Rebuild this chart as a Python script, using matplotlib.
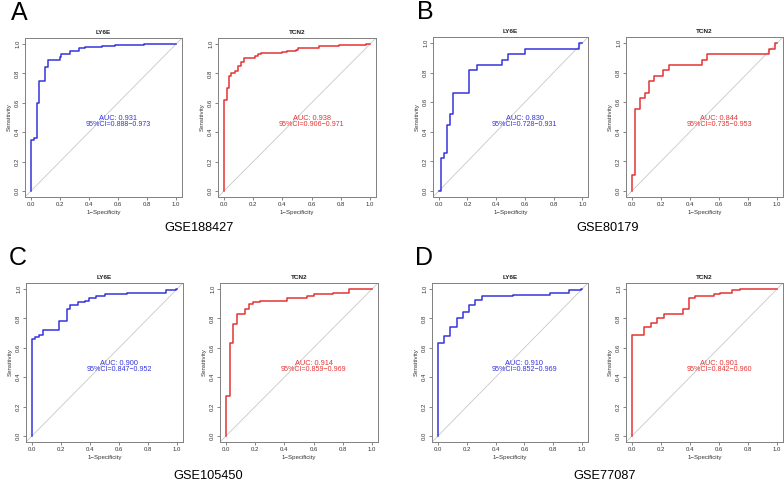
import matplotlib
matplotlib.use("Agg")
import matplotlib.pyplot as plt

plt.rcParams['font.family'] = ['Liberation Sans', 'DejaVu Sans']

W, H = 784, 484

# ---- data ----
panel_letters = ["A", "B", "C", "D"]
datasets = ["GSE188427", "GSE80179", "GSE105450", "GSE77087"]
genes = ["LY6E", "TCN2"]

A_LY6E_fpr = [0, 0, 0.02, 0.04, 0.055, 0.10, 0.115, 0.20, 0.21, 0.27, 0.33, 0.37, 0.49, 0.58, 0.78, 1.0]
A_LY6E_tpr = [0, 0.35, 0.36, 0.60, 0.745, 0.84, 0.89, 0.91, 0.93, 0.95, 0.97, 0.98, 0.985, 0.99, 1.0, 1.0]
A_TCN2_fpr = [0, 0, 0.02, 0.037, 0.052, 0.075, 0.096, 0.114, 0.137, 0.21, 0.235, 0.255, 0.40, 0.43, 0.49, 0.507, 0.648, 0.79, 0.97, 1.0]
A_TCN2_tpr = [0, 0.62, 0.70, 0.78, 0.80, 0.815, 0.85, 0.875, 0.905, 0.915, 0.93, 0.94, 0.945, 0.95, 0.96, 0.975, 0.985, 0.99, 1.0, 1.0]

B_LY6E_fpr = [0, 0.018, 0.034, 0.057, 0.077, 0.098, 0.214, 0.268, 0.443, 0.48, 0.60, 0.98, 1.0]
B_LY6E_tpr = [0, 0.22, 0.26, 0.445, 0.52, 0.665, 0.815, 0.85, 0.885, 0.925, 0.96, 1.0, 1.0]
B_TCN2_fpr = [0, 0, 0.02, 0.059, 0.09, 0.116, 0.155, 0.212, 0.253, 0.48, 0.516, 0.943, 0.984, 1.0]
B_TCN2_tpr = [0, 0.11, 0.555, 0.63, 0.665, 0.74, 0.78, 0.815, 0.85, 0.885, 0.925, 0.96, 1.0, 1.0]

C_LY6E_fpr = [0, 0, 0.025, 0.05, 0.075, 0.185, 0.24, 0.265, 0.315, 0.365, 0.395, 0.443, 0.50, 0.653, 0.92, 0.99, 1.0]
C_LY6E_tpr = [0, 0.66, 0.67, 0.685, 0.72, 0.785, 0.865, 0.89, 0.91, 0.92, 0.94, 0.95, 0.965, 0.975, 0.99, 1.0, 1.0]
C_TCN2_fpr = [0, 0, 0.025, 0.05, 0.075, 0.13, 0.16, 0.185, 0.235, 0.42, 0.555, 0.605, 0.735, 0.845, 1.0]
C_TCN2_tpr = [0, 0.27, 0.63, 0.76, 0.83, 0.865, 0.90, 0.91, 0.92, 0.94, 0.955, 0.965, 0.975, 1.0, 1.0]

D_LY6E_fpr = [0, 0, 0.041, 0.084, 0.13, 0.173, 0.214, 0.26, 0.305, 0.52, 0.78, 0.91, 0.99, 1.0]
D_LY6E_tpr = [0, 0.63, 0.68, 0.74, 0.805, 0.84, 0.89, 0.925, 0.95, 0.96, 0.975, 0.99, 1.0, 1.0]
D_TCN2_fpr = [0, 0, 0.087, 0.13, 0.175, 0.219, 0.349, 0.39, 0.435, 0.565, 0.61, 0.69, 0.743, 1.0]
D_TCN2_tpr = [0, 0.69, 0.74, 0.765, 0.805, 0.83, 0.865, 0.94, 0.95, 0.965, 0.975, 0.99, 1.0, 1.0]

auc_values = [["0.931", "0.938"], ["0.830", "0.844"], ["0.900", "0.914"], ["0.910", "0.901"]]
ci_values = [[("0.888", "0.973"), ("0.906", "0.971")],
             [("0.728", "0.931"), ("0.735", "0.953")],
             [("0.847", "0.952"), ("0.859", "0.969")],
             [("0.852", "0.969"), ("0.842", "0.960")]]

curves = [[(A_LY6E_fpr, A_LY6E_tpr), (A_TCN2_fpr, A_TCN2_tpr)],
          [(B_LY6E_fpr, B_LY6E_tpr), (B_TCN2_fpr, B_TCN2_tpr)],
          [(C_LY6E_fpr, C_LY6E_tpr), (C_TCN2_fpr, C_TCN2_tpr)],
          [(D_LY6E_fpr, D_LY6E_tpr), (D_TCN2_fpr, D_TCN2_tpr)]]

tick_vals = [0.0, 0.2, 0.4, 0.6, 0.8, 1.0]
tick_labels = ["0.0", "0.2", "0.4", "0.6", "0.8", "1.0"]

# ---- layout (pixel boxes: left, right, top, bottom) ----
boxes = [[(25, 182, 38, 197), (218, 376, 38, 197)],
         [(433, 588, 37, 197), (626, 783, 37, 197)],
         [(26, 183, 283, 442), (220, 378, 283, 442)],
         [(432, 588, 283, 442), (626, 783, 283, 442)]]
letter_pos = [(19, 13), (425, 12), (18, 258), (424, 258)]
dataset_pos = [(199, 228), (608, 228), (208, 476), (605, 476)]
colors = ["#3434dc", "#e43434"]

fig = plt.figure(figsize=(W / 100, H / 100), dpi=100)
fig.patch.set_facecolor("white")

for p in range(4):
    for g in range(2):
        l, r, t, b = boxes[p][g]
        ax = fig.add_axes([l / W, 1 - b / H, (r - l) / W, (b - t) / H])
        fpr, tpr = curves[p][g]
        ax.axline((0, 0), (1, 1), color="#c8c8c8", lw=0.6, zorder=1)
        ax.step(fpr, tpr, where="post", color=colors[g], lw=1.1, zorder=3)
        ax.set_xlim(-0.04, 1.04)
        ax.set_ylim(-0.04, 1.04)
        ax.set_xticks(tick_vals)
        ax.set_xticklabels(tick_labels)
        ax.set_yticks(tick_vals)
        ax.set_yticklabels(tick_labels, rotation=90, va="center")
        ax.tick_params(axis="both", labelsize=4.3, length=2, width=0.5,
                       colors="#555555", labelcolor="#333333", pad=1.5)
        for s in ax.spines.values():
            s.set_color("#808080")
            s.set_linewidth(0.7)
        ax.set_title(genes[g], fontsize=4.6, fontweight="bold", pad=3, color="#222222")
        ax.set_xlabel("1\u2212Specificity", fontsize=4.4, labelpad=2.5, color="#333333")
        ax.set_ylabel("Sensitivity", fontsize=4.4, labelpad=2.5, color="#333333")
        ax.text(0.6, 0.49, "AUC: " + auc_values[p][g], color=colors[g],
                fontsize=5.3, ha="center", va="center")
        lo, hi = ci_values[p][g]
        ax.text(0.6, 0.45, "95%CI=" + lo + "\u2212" + hi, color=colors[g],
                fontsize=5.1, ha="center", va="center")
    lx, ly = letter_pos[p]
    fig.text(lx / W, 1 - ly / H, panel_letters[p], fontsize=18, ha="center", va="center")
    dx, dy = dataset_pos[p]
    fig.text(dx / W, 1 - dy / H, datasets[p], fontsize=9.2, ha="center", va="center")

fig.savefig("out.png", dpi=100, facecolor="white")
